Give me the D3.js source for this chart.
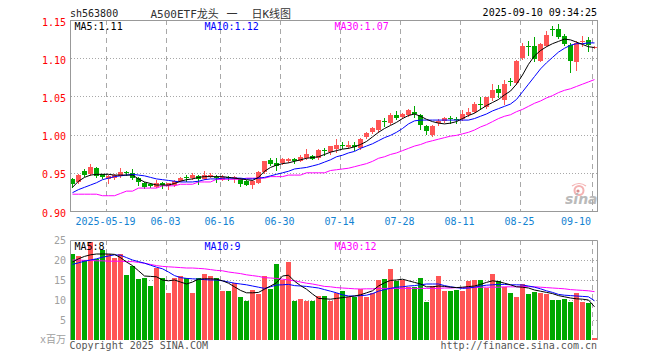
<!DOCTYPE html>
<html>
<head>
<meta charset="utf-8">
<script src="https://cdn.jsdelivr.net/npm/d3@7"></script>
<style>
body { margin: 0; background: #fff; }
svg { display: block; font-family: "DejaVu Sans Mono", "Noto Sans CJK SC", monospace; }
</style>
</head>
<body>
<svg id="chart" width="660" height="360"></svg>
<script>

// trading days shown, 2025-05-09 .. 2025-09-10
const dates = [
  "2025-05-09","2025-05-12","2025-05-13","2025-05-14","2025-05-15","2025-05-16","2025-05-19","2025-05-20","2025-05-21","2025-05-22",
  "2025-05-23","2025-05-26","2025-05-27","2025-05-28","2025-05-29","2025-05-30","2025-06-03","2025-06-04","2025-06-05","2025-06-06",
  "2025-06-09","2025-06-10","2025-06-11","2025-06-12","2025-06-13","2025-06-16","2025-06-17","2025-06-18","2025-06-19","2025-06-20",
  "2025-06-23","2025-06-24","2025-06-25","2025-06-26","2025-06-27","2025-06-30","2025-07-01","2025-07-02","2025-07-03","2025-07-04",
  "2025-07-07","2025-07-08","2025-07-09","2025-07-10","2025-07-11","2025-07-14","2025-07-15","2025-07-16","2025-07-17","2025-07-18",
  "2025-07-21","2025-07-22","2025-07-23","2025-07-24","2025-07-25","2025-07-28","2025-07-29","2025-07-30","2025-07-31","2025-08-01",
  "2025-08-04","2025-08-05","2025-08-06","2025-08-07","2025-08-08","2025-08-11","2025-08-12","2025-08-13","2025-08-14","2025-08-15",
  "2025-08-18","2025-08-19","2025-08-20","2025-08-21","2025-08-22","2025-08-25","2025-08-26","2025-08-27","2025-08-28","2025-08-29",
  "2025-09-01","2025-09-02","2025-09-03","2025-09-04","2025-09-05","2025-09-08","2025-09-09","2025-09-10"
];

const openP = [
  0.9415,0.9384,0.9528,0.9484,0.9567,0.948,0.9419,0.9428,0.9458,0.9515,
  0.9493,0.9428,0.937,0.935,0.9318,0.937,0.9318,0.934,0.9396,0.9449,
  0.9428,0.9458,0.9419,0.9441,0.9449,0.9415,0.9449,0.9432,0.9415,0.9396,
  0.934,0.937,0.9506,0.9667,0.9632,0.9624,0.9659,0.9677,0.9659,0.969,
  0.9724,0.969,0.9794,0.9776,0.9812,0.9868,0.9834,0.9858,0.982,0.9973,
  1.0025,1.005,1.0178,1.0148,1.0263,1.0234,1.0257,1.0302,1.0263,1.0113,
  0.9995,1.0152,1.0169,1.0215,1.0205,1.020,1.0263,1.0296,1.0405,1.0357,
  1.0479,1.0597,1.0453,1.0701,1.0675,1.1012,1.1166,1.1164,1.0967,1.1169,
  1.1378,1.1382,1.1287,1.1177,1.095,1.1208,1.1242,1.114
];
const highP = [
  0.9432,0.9484,0.9546,0.9615,0.958,0.9484,0.9471,0.948,0.956,0.9528,
  0.9546,0.9441,0.9384,0.936,0.9406,0.9375,0.9365,0.940,0.945,0.9471,
  0.9493,0.9471,0.9522,0.950,0.9471,0.9471,0.9455,0.9455,0.9428,0.940,
  0.9402,0.9524,0.966,0.969,0.9698,0.969,0.969,0.970,0.9737,0.9807,
  0.9733,0.981,0.982,0.9855,0.9938,0.990,0.992,0.990,0.995,1.004,
  1.0095,1.0195,1.0218,1.0287,1.0305,1.028,1.0335,1.0374,1.027,1.0126,
  1.012,1.0204,1.0225,1.0243,1.0226,1.0322,1.0342,1.0427,1.0488,1.0495,
  1.0662,1.0653,1.0715,1.0741,1.098,1.120,1.1221,1.1278,1.1199,1.1352,
  1.1425,1.1448,1.1317,1.1203,1.1221,1.1287,1.1274,1.1155
];
const lowP = [
  0.9314,0.937,0.9458,0.9471,0.9449,0.9432,0.937,0.9415,0.945,0.9476,
  0.9415,0.9345,0.930,0.931,0.931,0.9297,0.929,0.933,0.939,0.9397,
  0.942,0.9355,0.9415,0.944,0.9384,0.941,0.940,0.9376,0.9327,0.9335,
  0.9297,0.936,0.950,0.9602,0.9537,0.962,0.9645,0.9628,0.965,0.968,
  0.9677,0.968,0.9737,0.975,0.9776,0.982,0.982,0.9798,0.981,0.996,
  1.0015,1.004,1.011,1.014,1.020,1.022,1.025,1.0234,1.0067,1.0014,
  0.9985,1.0126,1.016,1.0148,1.0156,1.019,1.025,1.029,1.0339,1.035,
  1.0453,1.0488,1.040,1.0653,1.0662,1.0994,1.1046,1.0967,1.0963,1.116,
  1.13,1.1264,1.1169,1.0815,1.085,1.116,1.1098,1.1135
];
const closeP = [
  0.9353,0.9471,0.9471,0.9572,0.9458,0.9441,0.9462,0.9471,0.9515,0.9497,
  0.9428,0.9376,0.9318,0.9318,0.937,0.934,0.9362,0.9396,0.9436,0.9432,
  0.9471,0.9415,0.9471,0.9471,0.9432,0.9449,0.9436,0.9449,0.9353,0.934,
  0.9396,0.9515,0.9654,0.9615,0.959,0.9681,0.9685,0.9646,0.9711,0.9742,
  0.969,0.9794,0.9776,0.985,0.9864,0.9858,0.9864,0.9838,0.9939,1.0025,
  1.0082,1.0185,1.016,1.0257,1.023,1.027,1.0326,1.0276,1.0132,1.0054,
  1.0113,1.0178,1.0213,1.0205,1.0195,1.0266,1.0296,1.040,1.0395,1.0488,
  1.0588,1.0545,1.0662,1.0688,1.096,1.1164,1.1153,1.0994,1.1186,1.1308,
  1.1369,1.1274,1.1177,1.0963,1.1199,1.1221,1.1177,1.1153
];

// moving averages as drawn on the chart
const ma5 = [
  0.931,0.939,0.944,0.947,0.948,0.948,0.948,0.947,0.947,0.947,
  0.947,0.942,0.938,0.936,0.934,0.934,0.934,0.936,0.939,0.941,
  0.942,0.944,0.945,0.945,0.945,0.945,0.944,0.943,0.942,0.941,
  0.940,0.944,0.952,0.957,0.960,0.962,0.963,0.965,0.967,0.969,
  0.970,0.971,0.974,0.977,0.979,0.981,0.982,0.984,0.987,0.991,
  0.997,1.003,1.008,1.012,1.016,1.021,1.025,1.027,1.024,1.020,
  1.017,1.015,1.014,1.015,1.017,1.021,1.025,1.028,1.033,1.038,
  1.042,1.046,1.052,1.057,1.066,1.078,1.092,1.103,1.110,1.115,
  1.119,1.122,1.125,1.124,1.121,1.118,1.115,1.114
];
const ma10 = [
  0.924,0.928,0.931,0.934,0.937,0.941,0.943,0.945,0.946,0.947,
  0.948,0.947,0.946,0.944,0.942,0.941,0.940,0.939,0.938,0.938,
  0.938,0.939,0.941,0.942,0.942,0.943,0.943,0.943,0.943,0.942,
  0.942,0.943,0.944,0.946,0.948,0.950,0.952,0.955,0.956,0.957,
  0.959,0.961,0.964,0.967,0.971,0.973,0.976,0.978,0.982,0.985,
  0.988,0.992,0.996,0.999,1.003,1.008,1.014,1.018,1.019,1.019,
  1.019,1.019,1.019,1.019,1.019,1.019,1.019,1.021,1.024,1.027,
  1.031,1.034,1.037,1.040,1.046,1.056,1.066,1.076,1.086,1.094,
  1.101,1.108,1.113,1.117,1.119,1.119,1.120,1.120
];
const ma30 = [
  0.922,0.922,0.922,0.922,0.922,0.920,0.920,0.920,0.923,0.926,
  0.926,0.930,0.930,0.930,0.930,0.933,0.933,0.933,0.935,0.935,
  0.935,0.938,0.938,0.938,0.9415,0.9415,0.9415,0.9415,0.9415,0.943,
  0.943,0.943,0.943,0.945,0.945,0.945,0.947,0.947,0.947,0.950,
  0.950,0.950,0.950,0.953,0.954,0.955,0.956,0.958,0.960,0.962,
  0.965,0.969,0.971,0.974,0.976,0.979,0.982,0.985,0.987,0.990,
  0.992,0.994,0.996,0.998,0.999,1.001,1.003,1.006,1.010,1.013,
  1.017,1.021,1.024,1.026,1.030,1.033,1.037,1.041,1.044,1.048,
  1.051,1.055,1.058,1.060,1.063,1.066,1.069,1.072
];

// volume, millions
const volume = [
  21.5,21.0,20.0,24.6,20.25,22.5,21.5,20.6,21.5,16.25,
  18.5,15.3,15.6,13.5,17.9,15.4,11.8,15.6,16.1,15.4,
  11.8,15.6,16.6,16.1,15.6,12.25,12.25,14.3,10.8,9.8,
  12.5,11.4,16.0,12.7,19.0,15.0,19.6,9.8,10.3,9.8,
  9.8,11.0,11.0,9.8,11.75,12.25,10.8,10.8,12.7,10.8,
  11.8,15.0,15.3,17.75,14.8,15.0,13.2,13.3,15.5,9.6,
  13.5,16.0,12.25,12.25,12.5,12.25,14.8,15.0,15.0,13.1,
  16.5,14.75,13.2,11.8,10.8,14.0,11.5,11.9,11.8,11.5,
  10.0,10.0,10.3,9.6,11.8,9.6,9.3,0.6
];
const vma5 = [
  19.5,20.3,20.9,21.3,21.5,21.5,21.5,21.4,20.6,19.5,
  18.6,17.3,16.0,15.9,15.8,15.0,14.8,15.0,14.5,14.0,
  14.5,15.2,15.3,15.3,15.2,14.8,14.2,13.3,12.4,11.8,
  11.8,11.9,12.7,13.5,14.3,16.0,16.2,14.7,13.6,12.7,
  11.5,10.4,10.3,10.2,10.4,10.6,10.8,11.0,11.3,11.8,
  12.3,13.5,14.3,14.9,15.0,15.2,14.8,14.4,14.0,13.3,
  13.3,13.5,13.4,13.2,13.1,13.2,13.35,13.5,13.9,14.4,
  14.8,14.6,14.2,13.8,13.3,13.2,13.0,12.5,12.2,11.9,
  11.6,11.1,10.8,10.5,10.3,10.2,10.0,8.3
];
const vma10 = [
  18.9,19.3,19.7,20.0,20.3,20.7,21.0,21.3,21.2,20.6,
  20.0,19.6,19.2,18.7,18.2,17.8,17.0,16.1,15.6,15.4,
  15.3,15.2,15.1,15.0,15.0,14.8,14.5,14.2,14.0,13.8,
  13.5,13.2,12.9,13.3,13.75,13.8,13.9,13.6,13.5,13.4,
  13.2,13.0,12.6,12.2,11.8,11.3,11.0,11.0,11.1,11.2,
  11.6,12.2,12.6,12.9,13.2,13.3,13.5,13.6,13.8,14.0,
  14.0,14.0,13.6,13.3,13.1,12.9,13.0,13.2,13.5,13.7,
  13.8,13.9,13.9,13.8,13.8,13.75,13.5,13.2,12.8,12.3,
  11.9,11.4,11.2,11.1,11.0,10.9,10.8,9.8
];
const vma30 = [
  20.0,20.0,19.9,19.9,19.8,19.8,19.7,19.7,19.7,19.6,
  19.6,19.4,19.2,18.9,18.6,18.4,18.3,18.2,18.1,18.0,
  18.0,17.9,17.8,17.6,17.4,17.3,17.0,16.8,16.6,16.3,
  16.1,15.9,15.6,15.5,15.4,15.2,15.0,14.8,14.5,14.2,
  14.0,13.7,13.4,13.3,13.1,13.0,12.9,12.8,12.75,12.8,
  12.8,12.9,12.9,12.9,12.9,12.9,12.9,12.9,12.9,12.9,
  12.9,12.9,13.0,13.0,13.1,13.1,13.1,13.1,13.2,13.2,
  13.2,13.2,13.3,13.3,13.3,13.35,13.35,13.3,13.2,13.1,
  13.0,12.9,12.8,12.6,12.5,12.4,12.3,12.1
];

const tickDates = ["2025-05-19","2025-06-03","2025-06-16","2025-06-30","2025-07-14","2025-07-28","2025-08-11","2025-08-25","2025-09-10"];
const tickLabels = ["2025-05-19","06-03","06-16","06-30","07-14","07-28","08-11","08-25","09-10"];
const priceTicks = [0.90, 0.95, 1.00, 1.05, 1.10, 1.15];
const volTicks = [5, 10, 15, 20, 25];

const RED = "#ff5555", GREEN = "#00a800", GRID = "#a8a8a8", FRAME = "#999";

const svg = d3.select("#chart");

const x = d3.scaleBand().domain(dates).range([70, 598]);
const yP = d3.scaleLinear().domain([0.90, 1.15]).range([211, 20]);
const yV = d3.scaleLinear().domain([0, 25]).range([340, 240]);

const rows = dates.map((d, i) => ({date: d, o: openP[i], h: highP[i], l: lowP[i], c: closeP[i], v: volume[i]}));
const colorOf = d => d.c >= d.o ? RED : GREEN;

// ---- grid ----
const grid = svg.append("g");

grid.selectAll("line.hp").data(priceTicks.filter(t => t > 0.9 && t < 1.15)).join("line")
    .attr("x1", 71).attr("x2", 597)
    .attr("y1", d => Math.round(yP(d)) + 0.5).attr("y2", d => Math.round(yP(d)) + 0.5)
    .attr("stroke", GRID).attr("stroke-dasharray", "1,2");

grid.selectAll("line.hv").data(volTicks.filter(t => t < 25)).join("line")
    .attr("x1", 71).attr("x2", 597)
    .attr("y1", d => Math.round(yV(d)) + 0.5).attr("y2", d => Math.round(yV(d)) + 0.5)
    .attr("stroke", GRID).attr("stroke-dasharray", "1,2");

[[20, 211], [240, 340]].forEach(r => {
    grid.append("g").selectAll("line").data(tickDates).join("line")
        .attr("x1", d => x(d) + 0.5).attr("x2", d => x(d) + 0.5)
        .attr("y1", r[0]).attr("y2", r[1])
        .attr("stroke", GRID).attr("stroke-dasharray", "5,4");
});

// ---- candles ----
const candles = svg.append("g").selectAll("g").data(rows).join("g");

candles.append("line")
    .attr("x1", d => x(d.date) + 2.5).attr("x2", d => x(d.date) + 2.5)
    .attr("y1", d => Math.round(yP(d.h))).attr("y2", d => Math.round(yP(d.l)) + 1)
    .attr("stroke", colorOf);

candles.append("rect")
    .attr("x", d => x(d.date))
    .attr("width", 5)
    .attr("y", d => Math.round(yP(Math.max(d.o, d.c))))
    .attr("height", d => Math.max(1, Math.round(Math.abs(yP(d.o) - yP(d.c)))))
    .attr("fill", colorOf);

// ---- volume bars ----
svg.append("g").selectAll("rect").data(rows).join("rect")
    .attr("x", d => x(d.date))
    .attr("width", 5)
    .attr("y", d => Math.round(yV(d.v)))
    .attr("height", d => 340 - Math.round(yV(d.v)))
    .attr("fill", colorOf);

// ---- MA lines ----
const cx = i => x(dates[i]) + 2.5;
const priceLine = d3.line().x((d, i) => cx(i)).y(d => yP(d));
const volLine = d3.line().x((d, i) => cx(i)).y(d => yV(d));

[[ma30, "#ff00ff"], [ma10, "#0000ff"], [ma5, "#000"]].forEach(s => {
    svg.append("path").attr("d", priceLine(s[0])).attr("fill", "none").attr("stroke", s[1]).attr("stroke-width", 1);
});
[[vma30, "#ff00ff"], [vma10, "#0000ff"], [vma5, "#000"]].forEach(s => {
    svg.append("path").attr("d", volLine(s[0])).attr("fill", "none").attr("stroke", s[1]).attr("stroke-width", 1);
});

// ---- frames ----
svg.append("rect").attr("x", 70.5).attr("y", 20.5).attr("width", 527).attr("height", 191)
    .attr("fill", "none").attr("stroke", FRAME);
svg.append("path").attr("d", "M70.5,340V240.5H597.5V340")
    .attr("fill", "none").attr("stroke", FRAME);

// ---- axes ----
const yAxis = svg.append("g").attr("transform", "translate(70,0)")
    .call(d3.axisLeft(yP).tickValues(priceTicks).tickFormat(d3.format(".2f")).tickSize(0).tickPadding(4));
yAxis.select(".domain").remove();
yAxis.selectAll("text").attr("fill", "#ff0000").attr("dy", "0.5em")
    .style("font-family", "DejaVu Sans Mono").style("font-size", "10px");

const vAxis = svg.append("g").attr("transform", "translate(70,0)")
    .call(d3.axisLeft(yV).tickValues(volTicks).tickSize(0).tickPadding(4));
vAxis.select(".domain").remove();
vAxis.selectAll("text").attr("fill", "#a0a0a0").attr("dy", "0.35em")
    .style("font-family", "DejaVu Sans Mono").style("font-size", "10px");

const xAxis = svg.append("g").attr("transform", "translate(0,211)")
    .call(d3.axisBottom(x).tickValues(tickDates).tickFormat((d, i) => tickLabels[i]).tickSize(0).tickPadding(7));
xAxis.select(".domain").remove();
xAxis.selectAll("text").attr("fill", "#1483d2").attr("dx", -3.5)
    .style("font-family", "DejaVu Sans Mono").style("font-size", "10px");
xAxis.selectAll("text").filter((d, i) => i === tickDates.length - 1)
    .attr("text-anchor", "end").attr("dx", -4);

// ---- texts ----
const txt = (s, px, py, col, anchor, size) => svg.append("text")
    .attr("x", px).attr("y", py).attr("fill", col)
    .attr("text-anchor", anchor || "start")
    .style("font-size", (size || 10) + "px").text(s);

txt("sh563800", 70, 16.5, "#222");
const title = svg.append("text").attr("y", 17.5).attr("fill", "#333").style("font-size", "11px");
title.append("tspan").attr("x", 150.5).text("A500ETF龙头");
title.append("tspan").attr("x", 226.5).text("一");
title.append("tspan").attr("x", 251.5).text("日K线图");
txt("2025-09-10 09:34:25", 597, 15.5, "#000", "end");

txt("MA5:1.11", 74.5, 29.5, "#000");
txt("MA10:1.12", 204.5, 29.5, "#0000ff");
txt("MA30:1.07", 334.5, 29.5, "#ff00ff");

txt("MA5:8", 74.5, 250, "#000");
txt("MA10:9", 204.5, 250, "#0000ff");
txt("MA30:12", 334.5, 250, "#ff00ff");

txt("x百万", 66, 343, "#a0a0a0", "end");
txt("Copyright 2025 SINA.COM", 69.5, 349, "#555");
txt("http://finance.sina.com.cn", 597, 349, "#555", "end");

// sina watermark
const logo = svg.append("g").attr("opacity", 0.8);
logo.append("circle").attr("cx", 579).attr("cy", 190.5).attr("r", 4.5)
    .attr("fill", "none").attr("stroke", "#f2a0a0").attr("stroke-width", 2);
logo.append("circle").attr("cx", 578).attr("cy", 191).attr("r", 1.6).attr("fill", "#d07070");
logo.append("path").attr("d", "M572,186 q7,-5 14,0").attr("fill", "none").attr("stroke", "#f2a0a0").attr("stroke-width", 1.2);
logo.append("text").attr("x", 565).attr("y", 203.5).attr("fill", "#aaaaaa")
    .style("font-family", "DejaVu Sans").style("font-style", "italic").style("font-weight", "bold")
    .style("font-size", "14px").text("sina");

</script>
</body>
</html>
